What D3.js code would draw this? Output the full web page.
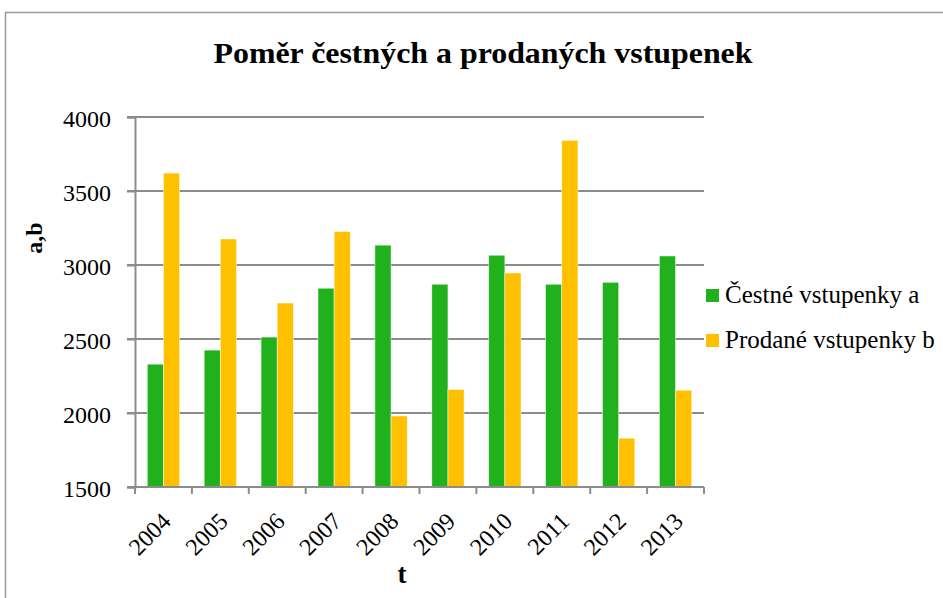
<!DOCTYPE html>
<html>
<head>
<meta charset="utf-8">
<script src="https://cdn.jsdelivr.net/npm/d3@7"></script>
<style>
  body { margin: 0; background: #fff; }
  svg { display: block; }
</style>
</head>
<body>
<svg id="chart"></svg>
<script>
/*Données du graphique*/
const years = ['2004','2005','2006','2007','2008','2009','2010','2011','2012','2013']
const cestne = [2330, 2425, 2513, 2843, 3134, 2870, 3066, 2870, 2883, 3061]
const prodane = [3621, 3176, 2743, 3226, 1980, 2159, 2946, 3842, 1830, 2154]
const yTicks = [1500, 2000, 2500, 3000, 3500, 4000]
const seriesNames = ['Čestné vstupenky a', 'Prodané vstupenky b']
const colors = ['#21b11d', '#ffc000']

const serif = '"Liberation Serif", "Times New Roman", "DejaVu Serif", serif'
const width = 943, height = 598
const margin = {top: 117, right: 239, bottom: 111, left: 135}

const svg = d3.select('#chart').attr('width', width).attr('height', height)

/*Cadre du graphique*/
svg.append('rect')
   .attr('x', 5.5).attr('y', 12.5)
   .attr('width', 1200).attr('height', 900)
   .attr('fill', 'none')
   .attr('stroke', '#9a9a9a')
   .attr('stroke-width', 1.5)

/*Echelles*/
const x0 = d3.scaleBand()
             .domain(years)
             .range([margin.left, width - margin.right])
             .padding(0)

const x1 = d3.scaleBand()
             .domain([0, 1])
             .range([0, x0.bandwidth()])
             .paddingInner(0)
             .paddingOuter(0.76)

const yScale = d3.scaleLinear()
                 .domain([1500, 4000])
                 .range([height - margin.bottom, margin.top])

/*Lignes de la grille*/
svg.append('g')
   .selectAll('line')
   .data(yTicks)
   .enter()
   .append('line')
   .attr('x1', margin.left - 8)
   .attr('x2', width - margin.right)
   .attr('y1', d => yScale(d))
   .attr('y2', d => yScale(d))
   .attr('stroke', '#8c8c8c')
   .attr('stroke-width', 2)

/*Axe des y*/
const yAxis = d3.axisLeft(yScale)
                .tickValues(yTicks)
                .tickFormat(d3.format('d'))
                .tickSize(8)
                .tickPadding(16)
svg.append('g')
   .attr('id', 'y-axis')
   .attr('transform', 'translate(' + margin.left + ',0)')
   .call(yAxis)
   .call(g => g.select('.domain').attr('stroke', '#8c8c8c').attr('stroke-width', 2))
   .call(g => g.selectAll('.tick line').attr('stroke', '#8c8c8c').attr('stroke-width', 2))
   .call(g => g.selectAll('.tick text')
               .attr('font-size', 24)
               .attr('font-family', serif)
               .attr('dy', '0.38em')
               .attr('fill', '#000'))

/*Barres*/
const rows = years.map((yr, i) => ({year: yr, values: [cestne[i], prodane[i]]}))

svg.append('g')
   .selectAll('g')
   .data(rows)
   .enter()
   .append('g')
   .attr('transform', d => 'translate(' + x0(d.year) + ',0)')
   .selectAll('rect')
   .data(d => d.values.map((v, k) => ({k: k, v: v})))
   .enter()
   .append('rect')
   .attr('x', d => x1(d.k))
   .attr('width', x1.bandwidth())
   .attr('y', d => yScale(d.v))
   .attr('height', d => yScale(1500) - yScale(d.v))
   .attr('fill', d => colors[d.k])
   .attr('stroke', 'rgba(255,255,255,0.6)')
   .attr('stroke-width', 0.8)

/*Axe des x*/
const xBase = yScale(1500)
const bounds = years.map(y => x0(y)).concat([width - margin.right])

svg.append('line')
   .attr('x1', margin.left).attr('x2', width - margin.right)
   .attr('y1', xBase).attr('y2', xBase)
   .attr('stroke', '#8c8c8c').attr('stroke-width', 2)

svg.append('g')
   .selectAll('line')
   .data(bounds)
   .enter()
   .append('line')
   .attr('x1', d => d).attr('x2', d => d)
   .attr('y1', xBase).attr('y2', xBase + 7)
   .attr('stroke', '#8c8c8c').attr('stroke-width', 2)

svg.append('g')
   .selectAll('text')
   .data(years)
   .enter()
   .append('text')
   .attr('transform', d => 'translate(' + (x0(d) + x0.bandwidth() / 2 - 3) + ',' + (xBase + 24) + ') rotate(-45)')
   .attr('text-anchor', 'end')
   .attr('dy', '0.7em')
   .attr('font-family', serif)
   .attr('font-size', 24)
   .text(d => d)

/*Titres*/
svg.append('text')
   .attr('x', 483).attr('y', 63)
   .attr('text-anchor', 'middle')
   .attr('font-family', serif)
   .attr('font-size', 29)
   .attr('font-weight', 'bold')
   .attr('textLength', 539)
   .attr('lengthAdjust', 'spacingAndGlyphs')
   .text('Poměr čestných a prodaných vstupenek')

svg.append('text')
   .attr('transform', 'translate(42,238) rotate(-90)')
   .attr('text-anchor', 'middle')
   .attr('font-family', serif)
   .attr('font-size', 24)
   .attr('font-weight', 'bold')
   .text('a,b')

svg.append('text')
   .attr('x', 402).attr('y', 583)
   .attr('text-anchor', 'middle')
   .attr('font-family', serif)
   .attr('font-size', 27)
   .attr('font-weight', 'bold')
   .text('t')

/*Légende*/
const legend = svg.append('g')
                  .selectAll('g')
                  .data(seriesNames)
                  .enter()
                  .append('g')
                  .attr('transform', (d, i) => 'translate(706,' + (289 + i * 45) + ')')

legend.append('rect')
      .attr('width', 13).attr('height', 13)
      .attr('fill', (d, i) => colors[i])

legend.append('text')
      .attr('x', 19).attr('y', 14)
      .attr('font-family', serif)
      .attr('font-size', 25)
      .text(d => d)
</script>
</body>
</html>
